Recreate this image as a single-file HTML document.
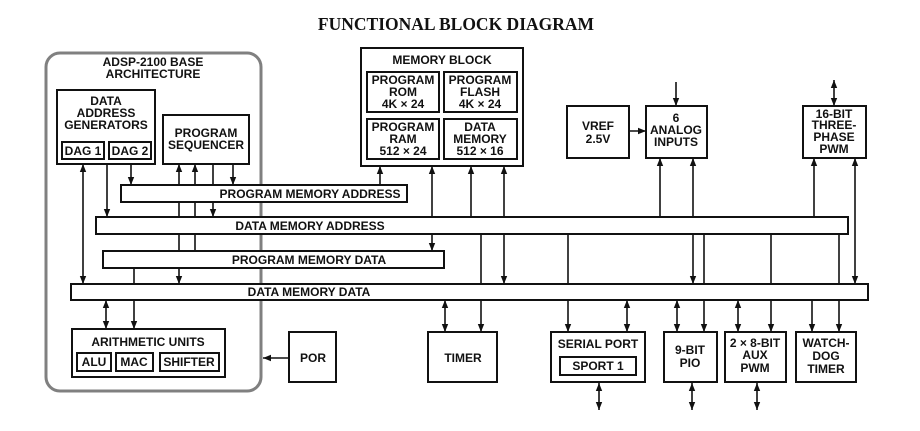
<!DOCTYPE html>
<html><head><meta charset="utf-8"><style>
body{margin:0;background:#fff}
svg{display:block}
text{font-family:"Liberation Sans",Arial,sans-serif;font-weight:bold;font-size:12px;fill:#111;text-anchor:middle}
</style></head><body>
<svg width="920" height="431" viewBox="0 0 920 431" xmlns="http://www.w3.org/2000/svg">
<defs>
<marker id="a" markerUnits="userSpaceOnUse" markerWidth="8" markerHeight="10" refX="8" refY="4" orient="auto-start-reverse" viewBox="0 0 8 8"><path d="M0,0.8 L8,4 L0,7.2z" fill="#111"/></marker>
</defs>
<text x="456" y="30" style="font-family:'Liberation Serif',serif;font-size:17.5px">FUNCTIONAL BLOCK DIAGRAM</text>
<rect x="46" y="53" width="215" height="338" rx="14" fill="none" stroke="#808080" stroke-width="3"/>
<text x="153" y="66">ADSP-2100 BASE</text><text x="153" y="78">ARCHITECTURE</text>
<g stroke="#111" stroke-width="1.6" fill="none">
<line x1="83" y1="164" x2="83" y2="284" marker-start="url(#a)" marker-end="url(#a)"/>
<line x1="107" y1="164" x2="107" y2="217" marker-end="url(#a)"/>
<line x1="131" y1="164" x2="131" y2="185" marker-end="url(#a)"/>
<line x1="179" y1="164" x2="179" y2="284" marker-start="url(#a)" marker-end="url(#a)"/>
<line x1="195" y1="251" x2="195" y2="164" marker-end="url(#a)"/>
<line x1="213" y1="164" x2="213" y2="217" marker-end="url(#a)"/>
<line x1="233" y1="164" x2="233" y2="185" marker-end="url(#a)"/>
<line x1="134" y1="268" x2="134" y2="329" marker-end="url(#a)"/>
<line x1="106" y1="300" x2="106" y2="329" marker-start="url(#a)" marker-end="url(#a)"/>
<line x1="289" y1="358" x2="263" y2="358" marker-end="url(#a)"/>
<line x1="380" y1="185" x2="380" y2="166" marker-end="url(#a)"/>
<line x1="432" y1="166" x2="432" y2="251" marker-start="url(#a)" marker-end="url(#a)"/>
<line x1="471" y1="217" x2="471" y2="166" marker-end="url(#a)"/>
<line x1="504" y1="166" x2="504" y2="284" marker-start="url(#a)" marker-end="url(#a)"/>
<line x1="629" y1="131" x2="646" y2="131" marker-end="url(#a)"/>
<line x1="676" y1="82" x2="676" y2="106" marker-end="url(#a)"/>
<line x1="660" y1="217" x2="660" y2="158" marker-end="url(#a)"/>
<line x1="693" y1="158" x2="693" y2="284" marker-start="url(#a)" marker-end="url(#a)"/>
<line x1="834" y1="80" x2="834" y2="106" marker-start="url(#a)" marker-end="url(#a)"/>
<line x1="814" y1="217" x2="814" y2="158" marker-end="url(#a)"/>
<line x1="855" y1="158" x2="855" y2="284" marker-start="url(#a)" marker-end="url(#a)"/>
<line x1="445" y1="300" x2="445" y2="332" marker-start="url(#a)" marker-end="url(#a)"/>
<line x1="481" y1="234" x2="481" y2="332" marker-end="url(#a)"/>
<line x1="568" y1="234" x2="568" y2="332" marker-end="url(#a)"/>
<line x1="627" y1="300" x2="627" y2="332" marker-start="url(#a)" marker-end="url(#a)"/>
<line x1="677" y1="300" x2="677" y2="332" marker-start="url(#a)" marker-end="url(#a)"/>
<line x1="704" y1="234" x2="704" y2="332" marker-end="url(#a)"/>
<line x1="738" y1="300" x2="738" y2="332" marker-start="url(#a)" marker-end="url(#a)"/>
<line x1="771" y1="234" x2="771" y2="332" marker-end="url(#a)"/>
<line x1="812" y1="300" x2="812" y2="332" marker-end="url(#a)"/>
<line x1="839" y1="234" x2="839" y2="332" marker-end="url(#a)"/>
<line x1="599" y1="383" x2="599" y2="410" marker-start="url(#a)" marker-end="url(#a)"/>
<line x1="692" y1="383" x2="692" y2="410" marker-start="url(#a)" marker-end="url(#a)"/>
<line x1="757" y1="383" x2="757" y2="410" marker-start="url(#a)" marker-end="url(#a)"/>
</g>
<g stroke="#111" stroke-width="2" fill="#fff">
<rect x="57" y="90" width="98" height="74"/>
<rect x="62" y="142" width="42" height="17"/>
<rect x="109" y="142" width="42" height="17"/>
<rect x="163" y="115" width="86" height="49"/>
<rect x="361" y="48" width="162" height="118"/>
<rect x="367" y="72" width="72" height="40"/>
<rect x="444" y="72" width="73" height="40"/>
<rect x="367" y="119" width="72" height="40"/>
<rect x="444" y="119" width="73" height="40"/>
<rect x="567" y="106" width="62" height="52"/>
<rect x="646" y="106" width="61" height="52"/>
<rect x="803" y="106" width="63" height="52"/>
<rect x="121" y="185" width="286" height="17"/>
<rect x="96" y="217" width="752" height="17"/>
<rect x="103" y="251" width="341" height="17"/>
<rect x="71" y="284" width="797" height="16"/>
<rect x="72" y="329" width="153" height="48"/>
<rect x="77" y="353" width="34" height="18"/>
<rect x="116" y="353" width="37" height="18"/>
<rect x="160" y="353" width="59" height="18"/>
<rect x="289" y="332" width="47" height="50"/>
<rect x="428" y="332" width="69" height="50"/>
<rect x="551" y="332" width="94" height="50"/>
<rect x="560" y="357" width="76" height="18"/>
<rect x="664" y="332" width="53" height="50"/>
<rect x="725" y="332" width="61" height="50"/>
<rect x="796" y="332" width="60" height="50"/>
</g>
<text x="106" y="105">DATA</text><text x="106" y="117">ADDRESS</text><text x="106" y="129">GENERATORS</text>
<text x="83" y="155">DAG 1</text><text x="130" y="155">DAG 2</text>
<text x="206" y="137">PROGRAM</text><text x="206" y="149">SEQUENCER</text>
<text x="442" y="64">MEMORY BLOCK</text>
<text x="403" y="84">PROGRAM</text><text x="403" y="96">ROM</text><text x="403" y="108">4K × 24</text>
<text x="480" y="84">PROGRAM</text><text x="480" y="96">FLASH</text><text x="480" y="108">4K × 24</text>
<text x="403" y="131">PROGRAM</text><text x="403" y="143">RAM</text><text x="403" y="155">512 × 24</text>
<text x="480" y="131">DATA</text><text x="480" y="143">MEMORY</text><text x="480" y="155">512 × 16</text>
<text x="598" y="130">VREF</text><text x="598" y="143">2.5V</text>
<text x="676" y="122">6</text><text x="676" y="134">ANALOG</text><text x="676" y="146">INPUTS</text>
<text x="834" y="118">16-BIT</text><text x="834" y="129">THREE-</text><text x="834" y="141">PHASE</text><text x="834" y="153">PWM</text>
<text x="310" y="198">PROGRAM MEMORY ADDRESS</text>
<text x="310" y="230">DATA MEMORY ADDRESS</text>
<text x="309" y="264">PROGRAM MEMORY DATA</text>
<text x="309" y="296">DATA MEMORY DATA</text>
<text x="148" y="346">ARITHMETIC UNITS</text>
<text x="94" y="366">ALU</text><text x="134" y="366">MAC</text><text x="189" y="366">SHIFTER</text>
<text x="313" y="362">POR</text>
<text x="463" y="362">TIMER</text>
<text x="598" y="348">SERIAL PORT</text><text x="598" y="370">SPORT 1</text>
<text x="690" y="354">9-BIT</text><text x="690" y="367">PIO</text>
<text x="755" y="347">2 × 8-BIT</text><text x="755" y="359">AUX</text><text x="755" y="372">PWM</text>
<text x="826" y="347">WATCH-</text><text x="826" y="360">DOG</text><text x="826" y="373">TIMER</text>
</svg>
</body></html>
